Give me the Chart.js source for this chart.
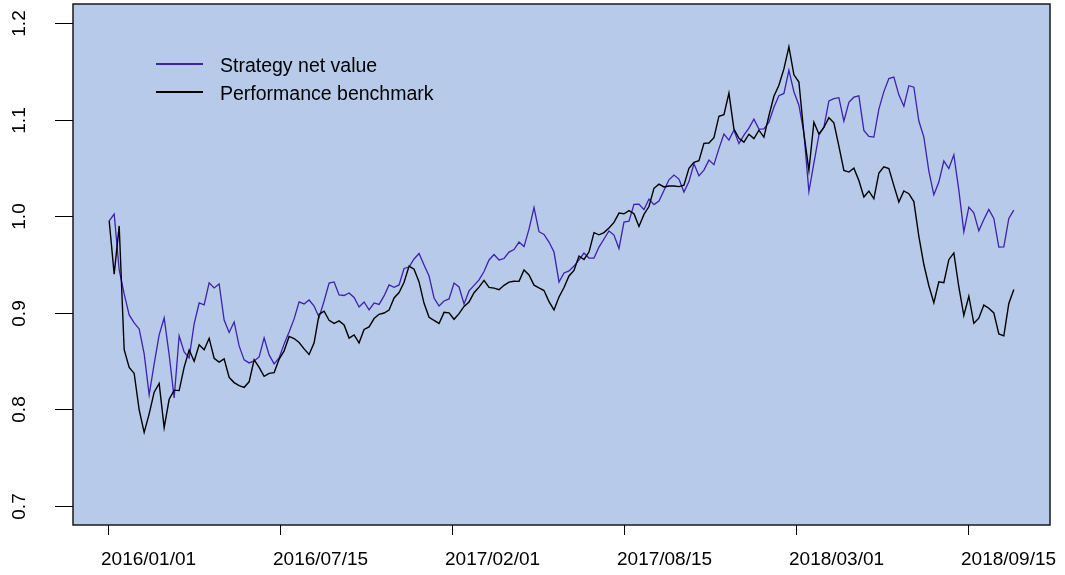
<!DOCTYPE html>
<html>
<head>
<meta charset="utf-8">
<script src="https://cdn.jsdelivr.net/npm/chart.js@4.4.1/dist/chart.umd.min.js"></script>
<style>
  html, body { margin: 0; padding: 0; background: #ffffff; }
  #navChart { display: block; }
</style>
</head>
<body>
<canvas id="navChart" width="1065" height="575"></canvas>
<script>
// x tick labels and where they sit on the trading-day index
const tickLabels = ['2016/01/01', '2016/07/15', '2017/02/01', '2017/08/15', '2018/03/01', '2018/09/15'];
const tickPos = [-0.26, 34.16, 68.58, 103.0, 137.42, 171.84];
const yTicks = [0.7, 0.8, 0.9, 1.0, 1.1, 1.2];

const seriesNames = ['Strategy net value', 'Performance benchmark'];

// Strategy net value
const strategyNav = [
    0.9953, 1.0023, 0.9443, 0.9195, 0.8977, 0.8894, 0.8832, 0.8573, 0.8149, 0.8470,
    0.8770, 0.8946, 0.8563, 0.8118, 0.8760, 0.8594, 0.8532, 0.8884, 0.9101, 0.9081,
    0.9311, 0.9257, 0.9298, 0.8925, 0.8796, 0.8905, 0.8656, 0.8511, 0.8480, 0.8501,
    0.8542, 0.8739, 0.8563, 0.8470, 0.8532, 0.8677, 0.8801, 0.8936, 0.9112, 0.9091,
    0.9132, 0.9070, 0.8951, 0.9122, 0.9308, 0.9319, 0.9184, 0.9179, 0.9205, 0.9158,
    0.9060, 0.9112, 0.9029, 0.9101, 0.9086, 0.9174, 0.9288, 0.9264, 0.9288, 0.9459,
    0.9474, 0.9557, 0.9614, 0.9495, 0.9381, 0.9153, 0.9070, 0.9122, 0.9143, 0.9308,
    0.9267, 0.9091, 0.9226, 0.9283, 0.9340, 0.9427, 0.9547, 0.9603, 0.9547, 0.9562,
    0.9629, 0.9655, 0.9733, 0.9686, 0.9867, 1.0090, 0.9840, 0.9811, 0.9733, 0.9629,
    0.9319, 0.9412, 0.9433, 0.9484, 0.9547, 0.9619, 0.9567, 0.9567, 0.9681, 0.9764,
    0.9847, 0.9805, 0.9666, 0.9940, 0.9950, 1.0123, 1.0126, 1.0069, 1.0178, 1.0121,
    1.0157, 1.0268, 1.0378, 1.0427, 1.0385, 1.0251, 1.0359, 1.0544, 1.0419, 1.0478,
    1.0582, 1.0535, 1.0701, 1.0851, 1.0789, 1.0892, 1.0753, 1.0840, 1.0913, 1.1006,
    1.0903, 1.0905, 1.0975, 1.1130, 1.1249, 1.1273, 1.1513, 1.1291, 1.1151, 1.0861,
    1.0256, 1.0551, 1.0840, 1.0923, 1.1195, 1.1220, 1.1229, 1.0985, 1.1182, 1.1234,
    1.1248, 1.0890, 1.0827, 1.0820, 1.1110, 1.1292, 1.1427, 1.1442, 1.1258, 1.1140,
    1.1353, 1.1338, 1.0987, 1.0820, 1.0468, 1.0222, 1.0354, 1.0573, 1.0494, 1.0636,
    1.0271, 0.9838, 1.0095, 1.0035, 0.9849, 0.9966, 1.0070, 0.9978, 0.9681, 0.9683,
    0.9977, 1.0064
];

// Performance benchmark
const benchmarkNav = [
    0.9953, 0.9400, 0.9900, 0.8617, 0.8434, 0.8371, 0.7994, 0.7760, 0.7952, 0.8177,
    0.8268, 0.7810, 0.8103, 0.8198, 0.8193, 0.8436, 0.8613, 0.8497, 0.8667, 0.8617,
    0.8735, 0.8528, 0.8489, 0.8522, 0.8331, 0.8276, 0.8244, 0.8227, 0.8284, 0.8513,
    0.8434, 0.8341, 0.8371, 0.8379, 0.8519, 0.8605, 0.8754, 0.8733, 0.8691, 0.8625,
    0.8567, 0.8688, 0.8984, 0.9016, 0.8922, 0.8890, 0.8915, 0.8873, 0.8737, 0.8770,
    0.8688, 0.8827, 0.8853, 0.8940, 0.8984, 0.8997, 0.9027, 0.9153, 0.9210, 0.9316,
    0.9484, 0.9451, 0.9319, 0.9098, 0.8953, 0.8920, 0.8889, 0.9004, 0.8999, 0.8932,
    0.8991, 0.9066, 0.9112, 0.9208, 0.9265, 0.9335, 0.9263, 0.9255, 0.9239, 0.9284,
    0.9318, 0.9326, 0.9325, 0.9443, 0.9391, 0.9286, 0.9257, 0.9230, 0.9115, 0.9029,
    0.9164, 0.9262, 0.9381, 0.9438, 0.9588, 0.9552, 0.9629, 0.9830, 0.9808, 0.9831,
    0.9878, 0.9936, 1.0033, 1.0026, 1.0059, 1.0027, 0.9894, 1.0019, 1.0101, 1.0290,
    1.0333, 1.0304, 1.0313, 1.0313, 1.0307, 1.0323, 1.0497, 1.0559, 1.0575, 1.0755,
    1.0759, 1.0815, 1.1037, 1.1053, 1.1276, 1.0904, 1.0809, 1.0768, 1.0850, 1.0805,
    1.0892, 1.0820, 1.1042, 1.1244, 1.1358, 1.1527, 1.1757, 1.1466, 1.1391, 1.0856,
    1.0476, 1.0975, 1.0853, 1.0920, 1.1021, 1.0969, 1.0727, 1.0475, 1.0458, 1.0499,
    1.0370, 1.0199, 1.0261, 1.0183, 1.0447, 1.0513, 1.0494, 1.0318, 1.0147, 1.0263,
    1.0234, 1.0152, 0.9792, 0.9500, 0.9280, 0.9104, 0.9320, 0.9312, 0.9550, 0.9620,
    0.9267, 0.8971, 0.9171, 0.8891, 0.8944, 0.9079, 0.9047, 0.8998, 0.8780, 0.8760,
    0.9096, 0.9241
];

const PLOT_BG = '#b7cae9';
const STRATEGY_COLOR = '#3f20b0';
const BENCH_COLOR = '#000000';
const TICK_FONT = '19px "Liberation Sans", Arial, sans-serif';
const LEGEND_FONT = '19.5px "Liberation Sans", Arial, sans-serif';

// R style box, axes and legend drawn on top of the chart area
const rStylePlugin = {
    id: 'rStyle',
    beforeDraw: function(chart) {
        const ctx = chart.ctx;
        const a = chart.chartArea;
        ctx.save();
        ctx.fillStyle = '#ffffff';
        ctx.fillRect(0, 0, chart.width, chart.height);
        ctx.fillStyle = PLOT_BG;
        ctx.fillRect(a.left, a.top, a.right - a.left, a.bottom - a.top);
        ctx.restore();
    },
    afterDraw: function(chart) {
        const ctx = chart.ctx;
        const a = chart.chartArea;
        const xs = chart.scales.x;
        const ys = chart.scales.y;
        ctx.save();

        // box
        ctx.strokeStyle = '#1a1a1a';
        ctx.lineWidth = 1.5;
        ctx.strokeRect(a.left, a.top, a.right - a.left, a.bottom - a.top);

        ctx.fillStyle = '#000000';
        ctx.strokeStyle = '#000000';
        ctx.lineWidth = 1;
        ctx.font = TICK_FONT;

        // y axis: ticks + rotated labels
        yTicks.forEach(v => {
            const py = Math.round(ys.getPixelForValue(v)) + 0.5;
            ctx.beginPath();
            ctx.moveTo(a.left - 18, py);
            ctx.lineTo(a.left, py);
            ctx.stroke();
            ctx.save();
            ctx.translate(25, py);
            ctx.rotate(-Math.PI / 2);
            ctx.textAlign = 'center';
            ctx.textBaseline = 'alphabetic';
            ctx.fillText(v.toFixed(1), 0, 0);
            ctx.restore();
        });

        // x axis: ticks + labels (labels sit to the right of their tick)
        tickPos.forEach((p, i) => {
            const px = Math.round(xs.getPixelForValue(p)) + 0.5;
            ctx.beginPath();
            ctx.moveTo(px, a.bottom);
            ctx.lineTo(px, a.bottom + 10);
            ctx.stroke();
            ctx.textAlign = 'left';
            ctx.textBaseline = 'alphabetic';
            ctx.fillText(tickLabels[i], px - 7.5, 565);
        });

        // legend
        const legendColors = [STRATEGY_COLOR, BENCH_COLOR];
        const legendY = [64, 92];
        ctx.font = LEGEND_FONT;
        seriesNames.forEach((name, i) => {
            ctx.strokeStyle = legendColors[i];
            ctx.lineWidth = 2.2;
            ctx.beginPath();
            ctx.moveTo(156, legendY[i]);
            ctx.lineTo(203, legendY[i]);
            ctx.stroke();
            ctx.fillStyle = '#000000';
            ctx.textAlign = 'left';
            ctx.textBaseline = 'alphabetic';
            ctx.fillText(name, 220, legendY[i] + 7.5);
        });

        ctx.restore();
    }
};

const toPoints = arr => arr.map((v, i) => ({ x: i, y: v }));

const ctx = document.getElementById('navChart').getContext('2d');
new Chart(ctx, {
    type: 'line',
    data: {
        datasets: [{
            label: seriesNames[0],
            data: toPoints(strategyNav),
            borderColor: STRATEGY_COLOR,
            borderWidth: 1.3,
            pointRadius: 0,
            tension: 0,
            fill: false,
            order: 2
        }, {
            label: seriesNames[1],
            data: toPoints(benchmarkNav),
            borderColor: BENCH_COLOR,
            borderWidth: 1.4,
            pointRadius: 0,
            tension: 0,
            fill: false,
            order: 1
        }]
    },
    options: {
        responsive: false,
        animation: false,
        devicePixelRatio: 1,
        layout: {
            padding: { left: 0, top: 4, right: 15, bottom: 0 }
        },
        scales: {
            x: {
                type: 'linear',
                min: -7.24,
                max: 188.24,
                ticks: { display: false },
                grid: { display: false },
                border: { display: false },
                afterFit: function(scale) { scale.height = 50; }
            },
            y: {
                min: 0.68,
                max: 1.22,
                ticks: { display: false },
                grid: { display: false },
                border: { display: false },
                afterFit: function(scale) { scale.width = 73; }
            }
        },
        plugins: {
            legend: { display: false },
            tooltip: { enabled: false }
        }
    },
    plugins: [rStylePlugin]
});
</script>
</body>
</html>
